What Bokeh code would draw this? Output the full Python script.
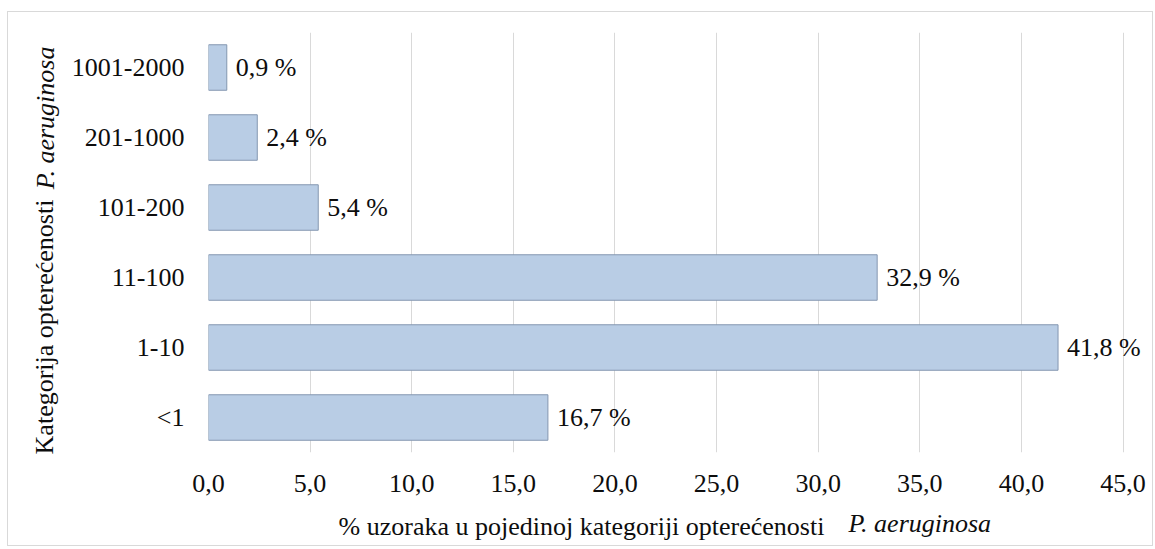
from bokeh.plotting import figure
from bokeh.models import ColumnDataSource, LabelSet, LinearAxis, FixedTicker
from bokeh.core.properties import value
from bokeh.embed import file_html
from bokeh.resources import INLINE

categories = ["<1", "1-10", "11-100", "101-200", "201-1000", "1001-2000"]
percentages = [16.7, 41.8, 32.9, 5.4, 2.4, 0.9]
value_labels = ["16,7 %", "41,8 %", "32,9 %", "5,4 %", "2,4 %", "0,9 %"]
x_ticks = [0, 5, 10, 15, 20, 25, 30, 35, 40, 45]
x_tick_labels = ["0,0", "5,0", "10,0", "15,0", "20,0", "25,0", "30,0", "35,0", "40,0", "45,0"]
x_title_plain = "% uzoraka u pojedinoj kategoriji  opterećenosti"
x_title_italic = "P. aeruginosa"
y_title_plain = "Kategorija  opterećenosti"
y_title_italic = "P. aeruginosa"

FONT = "Liberation Serif"
TXT = "#0d0d0d"
FS = "26px"
W, H = 1146, 535
NB = "\u00a0"

src = ColumnDataSource(dict(cat=categories, val=percentages, lab=value_labels))

# x range runs a little past the last tick so the "41,8 %" label is not clipped
p = figure(width=W, height=H, y_range=categories, x_range=(0, 46.3),
           output_backend="svg", toolbar_location=None,
           min_border_left=200, min_border_right=5, min_border_top=20, min_border_bottom=95,
           background_fill_color="white", border_fill_color="white",
           margin=(11, 0, 0, 7),
           styles={"border": "1px solid #d9d9d9", "box-sizing": "border-box"})
p.outline_line_color = None
p.y_range.range_padding = 0

p.hbar(y="cat", right="val", left=0, height=0.65, source=src,
       fill_color="#B9CDE5", line_color="#8497B0", line_width=1)

p.add_layout(LabelSet(x="val", y="cat", text="lab", source=src, x_offset=9,
                      text_baseline="middle", text_align="left",
                      text_font=value(FONT), text_font_size=FS, text_color=TXT))

p.xaxis.ticker = x_ticks
p.xaxis.major_label_overrides = {t: l for t, l in zip(x_ticks, x_tick_labels)}


def bare(ax, size=FS):
    ax.axis_line_color = None
    ax.major_tick_line_color = None
    ax.minor_tick_line_color = None
    ax.major_tick_in = 0
    ax.major_tick_out = 0
    ax.minor_tick_in = 0
    ax.minor_tick_out = 0
    ax.major_label_text_font = FONT
    ax.major_label_text_font_size = size
    ax.major_label_text_color = TXT
    ax.axis_label_text_font = FONT
    ax.axis_label_text_font_size = size
    ax.axis_label_text_color = TXT
    ax.axis_label_text_font_style = "normal"


bare(p.xaxis[0])
bare(p.yaxis[0])
p.xaxis.major_label_standoff = 22
p.yaxis.major_label_standoff = 24

p.xgrid.grid_line_color = "#D9D9D9"
p.xgrid.ticker = x_ticks
p.ygrid.grid_line_color = None

# x title: plain part as axis label, italic part as a tick label on the same line
xt = LinearAxis(ticker=FixedTicker(ticks=[35.0]),
                major_label_overrides={35.0: x_title_italic},
                axis_label=x_title_plain + NB * 29)
bare(xt)
xt.major_label_text_font_style = "italic"
xt.major_label_standoff = 14
xt.axis_label_standoff = -29
p.add_layout(xt, "below")

# y title: same idea, rotated (tick at a synthetic position of the factor range)
yt = LinearAxis(ticker=FixedTicker(ticks=[4.78]),
                major_label_overrides={4.78: y_title_italic},
                axis_label=y_title_plain + NB * 25)
bare(yt)
yt.major_label_text_font_style = "italic"
yt.major_label_orientation = "vertical"
yt.major_label_standoff = 8
yt.axis_label_standoff = -30
p.add_layout(yt, "left")

open("out.html", "w").write(file_html(p, INLINE))
